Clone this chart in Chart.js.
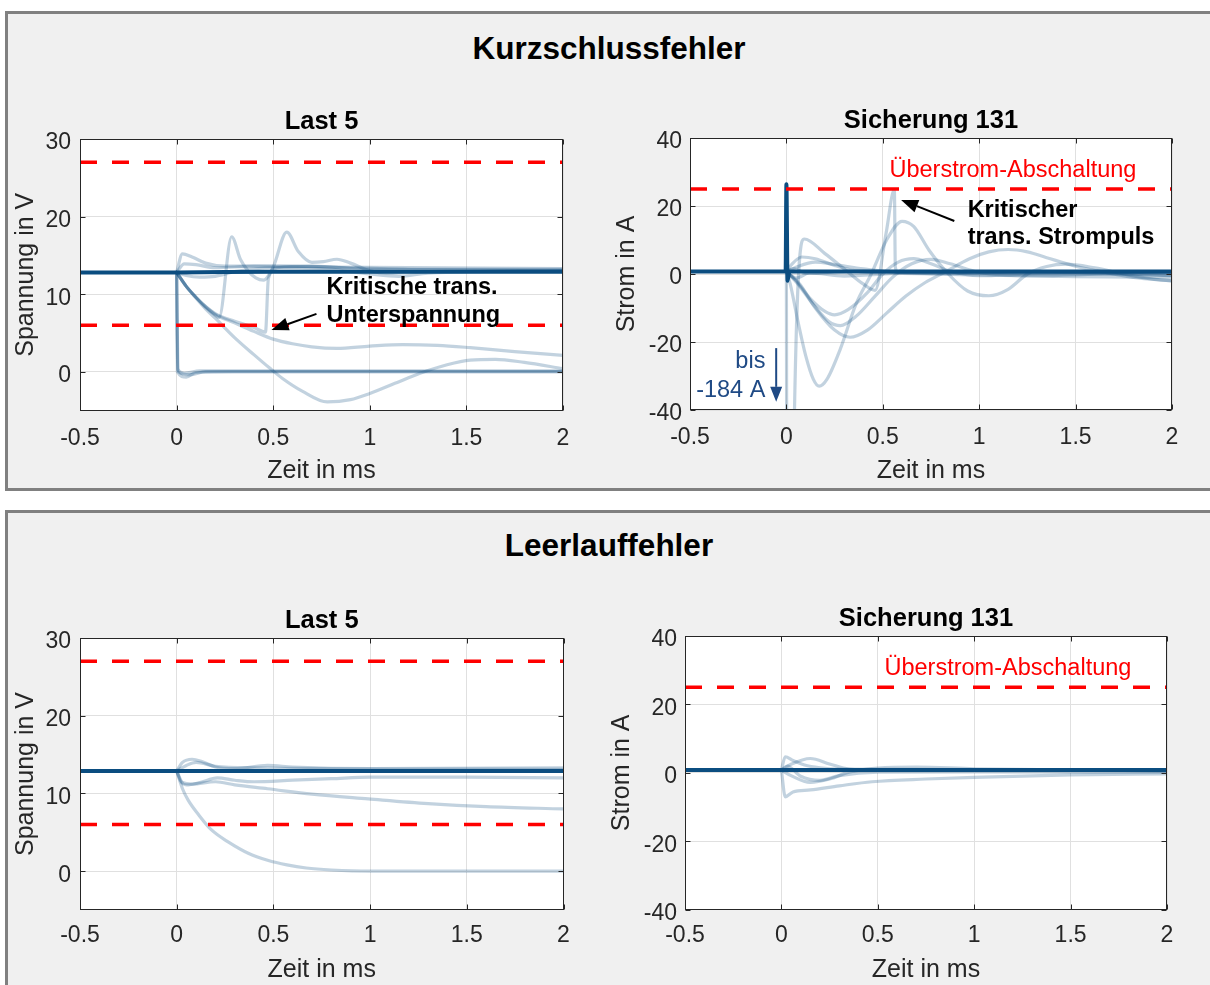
<!DOCTYPE html>
<html>
<head>
<meta charset="utf-8">
<script src="https://cdn.jsdelivr.net/npm/chart.js"></script>
<style>
  body { margin: 0; width: 1210px; height: 985px; overflow: hidden; position: relative; background: #fff; }
  .panel { position: absolute; left: 5px; width: 1222px; box-sizing: border-box; background: #f0f0f0; border: 3px solid #808080; }
  #panelShort { top: 11px; height: 480px; }
  #panelOpen { top: 510px; height: 500px; }
  .ptitle { position: absolute; left: 0; width: 1218px; text-align: center; color: #000;
            font: bold 31.5px/32px "Liberation Sans", Arial, sans-serif; }
  canvas { position: absolute; }
</style>
</head>
<body>
<div class="panel" id="panelShort"></div>
<div class="panel" id="panelOpen"></div>
<div class="ptitle" style="top:32px">Kurzschlussfehler</div>
<div class="ptitle" style="top:529px">Leerlauffehler</div>

<canvas id="ksLast" width="600" height="398" style="left:0;top:90px"></canvas>
<canvas id="ksFuse" width="610" height="398" style="left:600px;top:89px"></canvas>
<canvas id="llLast" width="600" height="398" style="left:0;top:589px"></canvas>
<canvas id="llFuse" width="610" height="400" style="left:595px;top:587px"></canvas>

<script>
// axes
const timeRange = [-0.5, 2];
const timeTicks = [-0.5, 0, 0.5, 1, 1.5, 2];
const voltRange = [-5, 30];
const voltTicks = [0, 10, 20, 30];
const currentRange = [-40, 40];
const currentTicks = [-40, -20, 0, 20, 40];

// limits (red dashed)
const voltLimits = [6, 27];
const currentLimits = [25];

// Kurzschluss, Last 5 - voltage in V over time in ms
const ksLastMain = [[-0.5, 12.8], [0, 12.8], [0.5, 12.9], [2, 12.9]];
const ksLastDropA = [[0, 12.8], [0.004, 0], [0.05, -0.7], [0.1, -0.1], [0.3, 0], [2, 0]];
const ksLastDropB = [[0, 12.8], [0.006, 0.3], [0.04, -0.2], [0.12, 0.1], [2, 0.1]];
const ksLastDropC = [[0, 12.8], [0.008, 0], [0.07, -0.4], [0.15, 0], [2, 0]];
const ksLastRiseA = [[0, 12.8], [0.03, 15.2], [0.08, 14.8], [0.15, 14.0], [0.25, 13.6], [0.6, 13.6], [0.9, 13.4], [1.3, 13.2], [2, 13.2]];
const ksLastRiseB = [[0, 12.8], [0.04, 13.9], [0.1, 13.8], [0.2, 13.4], [0.4, 13.6], [0.8, 13.5], [2, 13.3]];
const ksLastDip = [[0, 12.8], [0.05, 12.4], [0.12, 12.2], [0.2, 12.3], [0.3, 12.9], [0.5, 13.4], [0.8, 13.2], [1.0, 12.6], [1.15, 12.3], [1.3, 12.7], [2, 13.0]];
const ksLastSpike = [[0, 12.8], [0.05, 11.0], [0.1, 9.6], [0.15, 8.3], [0.2, 7.3], [0.22, 7.0], [0.285, 17.4], [0.33, 14.5], [0.37, 13.0], [0.41, 12.1], [0.45, 11.8], [0.5, 13.5], [0.57, 18.0], [0.63, 15.5], [0.7, 14.1], [0.76, 14.2], [0.83, 14.5], [0.9, 14.0], [1.0, 13.0], [1.1, 12.7], [1.3, 12.9], [2, 13.0]];
const ksLastSag = [[0, 12.8], [0.05, 11.0], [0.1, 9.6], [0.15, 8.4], [0.2, 7.5], [0.3, 6.5], [0.4, 5.7], [0.46, 5.1], [0.475, 12.0], [0.52, 13.4], [0.7, 13.6], [1.0, 13.2], [2, 13.1]];
const ksLastSettle = [[0, 12.8], [0.05, 11.0], [0.1, 9.6], [0.15, 8.4], [0.2, 7.4], [0.3, 6.3], [0.4, 5.2], [0.5, 4.2], [0.6, 3.6], [0.7, 3.2], [0.83, 3.0], [1.0, 3.3], [1.17, 3.5], [1.35, 3.4], [1.52, 3.1], [1.75, 2.6], [2, 2.1]];
const ksLastSwing = [[0, 12.8], [0.05, 11.0], [0.1, 9.5], [0.15, 8.1], [0.2, 6.9], [0.3, 4.4], [0.4, 2.2], [0.48, 0.5], [0.55, -0.9], [0.65, -2.5], [0.78, -3.9], [0.9, -3.6], [1.0, -2.8], [1.13, -1.5], [1.26, -0.2], [1.4, 0.9], [1.52, 1.5], [1.65, 1.6], [1.8, 1.2], [2, 0.4]];

// Kurzschluss, Sicherung 131 - current in A
const ksFuseMain = [[-0.5, 0.7], [-0.004, 0.7], [0, 26.4], [0.006, -2], [0.015, 0.7], [2, 0.7]];
const ksFuseCut = [[0, 0.7], [0.006, -184], [0.032, -184], [0.042, -40], [0.093, 10.3], [0.2, 6], [0.3, 1.5], [0.4, -3], [0.46, -4.8], [0.517, 12], [0.56, 24.8], [0.565, 2], [0.58, 0.4], [2, 0.4]];
const ksFuseDeep = [[0, 0.7], [0.02, -3], [0.06, -14], [0.1, -24], [0.14, -31], [0.17, -33], [0.21, -31], [0.28, -22], [0.36, -9], [0.44, 0], [0.52, 10], [0.6, 15.5], [0.66, 14], [0.74, 7], [0.84, 0], [0.94, -5], [1.05, -6.4], [1.15, -4.5], [1.25, 0], [1.35, 2.2], [1.45, 2.9], [1.6, 1.8], [1.75, 0], [1.9, -1.5], [2, -2]];
const ksFuseDipA = [[0, 0.7], [0.05, -2], [0.12, -7], [0.2, -11], [0.25, -12], [0.32, -10.5], [0.42, -5.5], [0.5, 0], [0.58, 3.5], [0.66, 4.5], [0.75, 3], [0.85, 0.8], [1.0, -0.5], [1.3, 0], [2, 0]];
const ksFuseDipB = [[0, 0.7], [0.06, -3], [0.14, -9], [0.22, -14], [0.28, -15.2], [0.36, -12.5], [0.46, -6.5], [0.55, -1], [0.65, 3], [0.75, 4.3], [0.85, 3], [1.0, 0.5], [1.3, -0.5], [1.7, 0], [2, -0.5]];
const ksFuseDipC = [[0, 0.7], [0.07, -3], [0.15, -10], [0.25, -16.5], [0.33, -18.6], [0.42, -16.5], [0.52, -11.5], [0.62, -6.5], [0.72, -2.5], [0.82, 0.5], [0.95, 4.5], [1.05, 6.5], [1.15, 7.2], [1.25, 6.5], [1.35, 4.8], [1.5, 2.3], [1.65, 0.5], [1.8, -1], [2, -2]];
const ksFuseBumpA = [[0, 0.7], [0.03, 3], [0.08, 5], [0.15, 4.5], [0.25, 2.5], [0.35, 1], [0.5, 0.4], [2, 0.4]];
const ksFuseBumpB = [[0, 0.7], [0.05, 2], [0.15, 3.5], [0.25, 2.8], [0.4, 1.5], [0.6, 0.5], [2, 0.5]];
const ksFuseRipple = [[0, 0.7], [0.05, -1.2], [0.12, 0.3], [0.3, -0.6], [0.6, 0.2], [1.0, -0.3], [1.5, -0.8], [2, -1]];
const ksFuseHold = [[0, 0.7], [0.04, 1.6], [0.1, 0.2], [0.4, 0.9], [0.8, 0.1], [1.2, 0.6], [2, -0.4]];

// Leerlauf, Last 5
const llLastMain = [[-0.5, 12.9], [0, 12.9], [2, 12.9]];
const llLastRiseA = [[0, 12.9], [0.03, 14.0], [0.08, 14.4], [0.13, 14.1], [0.2, 13.4], [0.3, 13.2], [0.47, 13.6], [0.6, 13.4], [1.0, 13.2], [2, 13.3]];
const llLastRiseB = [[0, 12.9], [0.05, 13.6], [0.1, 14.0], [0.2, 13.5], [0.4, 13.3], [2, 13.1]];
const llLastDip = [[0, 12.9], [0.02, 11.6], [0.05, 11.1], [0.12, 11.4], [0.21, 12.0], [0.3, 11.7], [0.4, 11.5], [0.6, 11.7], [0.8, 11.9], [1.0, 12.1], [1.5, 12.1], [2, 12.0]];
const llLastSag = [[0, 12.9], [0.03, 11.4], [0.08, 11.2], [0.2, 11.5], [0.3, 11.1], [0.47, 10.6], [0.7, 9.9], [0.99, 9.3], [1.3, 8.7], [1.6, 8.3], [2, 8.0]];
const llLastDecay = [[0, 12.9], [0.03, 10.6], [0.06, 9.1], [0.115, 7.2], [0.18, 5.3], [0.27, 3.7], [0.37, 2.3], [0.47, 1.4], [0.57, 0.8], [0.67, 0.4], [0.8, 0.15], [1.0, 0], [2, 0]];

// Leerlauf, Sicherung 131
const llFuseMain = [[-0.5, 0.8], [0, 0.8], [2, 0.8]];
const llFuseNeg = [[0, 0.8], [0.02, -7], [0.06, -5.6], [0.15, -5], [0.3, -3.8], [0.47, -2.6], [0.75, -1.8], [1.0, -1.3], [1.5, -0.6], [2, -0.3]];
const llFusePos = [[0, 0.8], [0.02, 4.7], [0.06, 3.6], [0.12, 2.3], [0.2, 1.5], [0.3, 1.1], [2, 0.8]];
const llFuseRingA = [[0, 0.8], [0.05, 2.5], [0.15, 4.2], [0.25, 2.6], [0.35, 1.1], [0.5, 0.8], [2, 0.8]];
const llFuseRingB = [[0, 0.8], [0.05, -0.8], [0.15, -2.8], [0.25, -1.8], [0.35, 0.2], [0.5, 1.4], [0.7, 1.7], [1.0, 1.2], [2, 0.6]];
const llFuseRingC = [[0, 0.8], [0.03, 2], [0.1, -1], [0.2, -2.2], [0.3, -0.8], [0.5, 0.2], [1.0, 0.3], [2, 0.2]];

const DARK = '#0b4d80';
const LIGHT = 'rgba(11, 77, 128, 0.25)';
const INK = '#262626';
const FONT = '"Liberation Sans", Arial, sans-serif';

Chart.defaults.font.family = FONT;
Chart.defaults.color = INK;

function lineSet(pts, color, width) {
    return {
        data: pts.map(p => ({ x: p[0], y: p[1] })),
        borderColor: color,
        borderWidth: width,
        pointRadius: 0,
        fill: false,
        cubicInterpolationMode: 'monotone',
        borderCapStyle: 'round',
        borderJoinStyle: 'round',
        clip: 0
    };
}

function limitSet(v) {
    return {
        data: [{ x: timeRange[0], y: v }, { x: timeRange[1], y: v }],
        borderColor: '#ff0000',
        borderWidth: 3.5,
        borderDash: [17, 15],
        pointRadius: 0,
        fill: false
    };
}

function arrow(ctx, x1, y1, x2, y2, color, lw, len, half) {
    const a = Math.atan2(y2 - y1, x2 - x1);
    const bx = x2 - len * Math.cos(a), by = y2 - len * Math.sin(a);
    ctx.strokeStyle = color;
    ctx.lineWidth = lw;
    ctx.beginPath();
    ctx.moveTo(x1, y1);
    ctx.lineTo(bx, by);
    ctx.stroke();
    ctx.fillStyle = color;
    ctx.beginPath();
    ctx.moveTo(x2, y2);
    ctx.lineTo(bx + half * Math.sin(a), by - half * Math.cos(a));
    ctx.lineTo(bx - half * Math.sin(a), by + half * Math.cos(a));
    ctx.closePath();
    ctx.fill();
}

// white plot area, box with inward ticks, text notes and arrows
function framePlugin(notes) {
    return {
        id: 'frame',
        beforeDraw(chart) {
            const a = chart.chartArea, ctx = chart.ctx;
            ctx.save();
            ctx.fillStyle = '#fff';
            ctx.fillRect(a.left, a.top, a.right - a.left, a.bottom - a.top);
            ctx.restore();
        },
        afterDraw(chart) {
            const { ctx, chartArea: a, scales: { x, y } } = chart;
            ctx.save();
            ctx.strokeStyle = INK;
            ctx.lineWidth = 1;
            const L = Math.round(a.left) + 0.5, R = Math.round(a.right) - 0.5;
            const T = Math.round(a.top) + 0.5, B = Math.round(a.bottom) - 0.5;
            ctx.strokeRect(L, T, R - L, B - T);
            ctx.beginPath();
            x.ticks.forEach(t => {
                const px = Math.round(x.getPixelForValue(t.value)) + 0.5;
                ctx.moveTo(px, B); ctx.lineTo(px, B - 5);
                ctx.moveTo(px, T); ctx.lineTo(px, T + 5);
            });
            y.ticks.forEach(t => {
                const py = Math.round(y.getPixelForValue(t.value)) + 0.5;
                ctx.moveTo(L, py); ctx.lineTo(L + 5, py);
                ctx.moveTo(R, py); ctx.lineTo(R - 5, py);
            });
            ctx.stroke();

            notes.forEach(n => {
                if (n.text) {
                    ctx.font = n.font;
                    ctx.fillStyle = n.color;
                    ctx.textAlign = n.align;
                    ctx.textBaseline = 'alphabetic';
                    ctx.fillText(n.text, x.getPixelForValue(n.at[0]), y.getPixelForValue(n.at[1]));
                } else {
                    arrow(ctx, x.getPixelForValue(n.from[0]), y.getPixelForValue(n.from[1]),
                        x.getPixelForValue(n.to[0]), y.getPixelForValue(n.to[1]),
                        n.color, 2, n.len, n.half);
                }
            });
            ctx.restore();
        }
    };
}

function makeChart(id, c) {
    const datasets = [
        ...c.limits.map(limitSet),
        lineSet(c.main, DARK, 4),
        ...c.traces.map(t => lineSet(t, LIGHT, 3.2))
    ];
    return new Chart(document.getElementById(id), {
        type: 'line',
        data: { datasets: datasets },
        plugins: [framePlugin(c.notes)],
        options: {
            responsive: false,
            animation: false,
            devicePixelRatio: 1,
            events: [],
            layout: { padding: { left: 0, right: c.padRight, top: 0, bottom: 0 } },
            plugins: {
                legend: { display: false },
                tooltip: { enabled: false },
                title: {
                    display: true,
                    text: c.title,
                    fullSize: false,
                    color: '#000',
                    font: { size: 25.5, weight: 'bold' },
                    padding: { top: 16.5, bottom: 1.9 }
                }
            },
            scales: {
                x: {
                    type: 'linear',
                    min: timeRange[0],
                    max: timeRange[1],
                    afterBuildTicks: s => {
                        s.min = timeRange[0];
                        s.max = timeRange[1];
                        s.ticks = timeTicks.map(v => ({ value: v }));
                    },
                    afterFit: s => { s.height = c.xHeight; s.paddingLeft = 0; s.paddingRight = 0; },
                    grid: { color: '#e0e0e0', drawTicks: false },
                    border: { display: false },
                    ticks: {
                        autoSkip: false, maxRotation: 0, padding: c.xTickPad,
                        font: { size: 23 }, color: INK,
                        callback: v => String(v)
                    },
                    title: {
                        display: true, text: 'Zeit in ms', color: INK,
                        font: { size: 25 }, padding: { top: 0, bottom: c.xTitlePad }
                    }
                },
                y: {
                    type: 'linear',
                    min: c.yRange[0],
                    max: c.yRange[1],
                    afterBuildTicks: s => {
                        s.min = c.yRange[0];
                        s.max = c.yRange[1];
                        s.ticks = c.yTicks.map(v => ({ value: v }));
                    },
                    afterFit: s => { s.width = c.yWidth; s.paddingTop = 0; s.paddingBottom = 0; },
                    grid: { color: '#e0e0e0', drawTicks: false },
                    border: { display: false },
                    ticks: {
                        autoSkip: false, padding: c.yTickPad,
                        // empty first line nudges the number a few px below the tick
                        font: { size: 23, lineHeight: 0.36 }, color: INK,
                        callback: v => ['', String(v)]
                    },
                    title: {
                        display: true, text: c.yTitle, color: INK,
                        font: { size: 25 }, padding: { top: c.yTitlePad, bottom: 0 }
                    }
                }
            }
        }
    });
}

const boldNote = 'bold 23.5px ' + FONT;
const plainNote = '23.5px ' + FONT;

makeChart('ksLast', {
    title: 'Last 5', yTitle: 'Spannung in V',
    yRange: voltRange, yTicks: voltTicks, limits: voltLimits,
    main: ksLastMain,
    traces: [ksLastDropA, ksLastDropB, ksLastDropC, ksLastRiseA, ksLastRiseB, ksLastDip,
             ksLastSpike, ksLastSag, ksLastSettle, ksLastSwing],
    padRight: 37, yWidth: 80, xHeight: 77.5,
    xTickPad: 14.5, xTitlePad: 1.6, yTickPad: 9, yTitlePad: 11,
    notes: [
        { text: 'Kritische trans.', at: [0.776, 10.0], align: 'left', font: boldNote, color: '#000' },
        { text: 'Unterspannung', at: [0.776, 6.46], align: 'left', font: boldNote, color: '#000' },
        { from: [0.724, 7.45], to: [0.491, 5.39], color: '#000', len: 17, half: 6.5 }
    ]
});

makeChart('ksFuse', {
    title: 'Sicherung 131', yTitle: 'Strom in A',
    yRange: currentRange, yTicks: currentTicks, limits: currentLimits,
    main: ksFuseMain,
    traces: [ksFuseCut, ksFuseDeep, ksFuseDipA, ksFuseDipB, ksFuseDipC,
             ksFuseBumpA, ksFuseBumpB, ksFuseRipple, ksFuseHold],
    padRight: 38, yWidth: 90, xHeight: 77,
    xTickPad: 13.5, xTitlePad: 0.6, yTickPad: 8, yTitlePad: 12,
    notes: [
        { text: 'Überstrom-Abschaltung', at: [1.175, 28.6], align: 'center', font: plainNote, color: '#ff0000' },
        { text: 'Kritischer', at: [0.94, 16.85], align: 'left', font: boldNote, color: '#000' },
        { text: 'trans. Strompuls', at: [0.94, 8.7], align: 'left', font: boldNote, color: '#000' },
        { from: [0.871, 15.6], to: [0.595, 21.8], color: '#000', len: 17, half: 6.5 },
        { text: 'bis', at: [-0.109, -27.7], align: 'right', font: plainNote, color: '#1f4a85' },
        { text: '-184 A', at: [-0.109, -36.1], align: 'right', font: plainNote, color: '#1f4a85' },
        { from: [-0.053, -21.8], to: [-0.053, -37.6], color: '#1f4a85', len: 15, half: 6 }
    ]
});

makeChart('llLast', {
    title: 'Last 5', yTitle: 'Spannung in V',
    yRange: voltRange, yTicks: voltTicks, limits: voltLimits,
    main: llLastMain,
    traces: [llLastRiseA, llLastRiseB, llLastDip, llLastSag, llLastDecay],
    padRight: 36.5, yWidth: 80, xHeight: 77,
    xTickPad: 12, xTitlePad: 2.3, yTickPad: 9, yTitlePad: 11,
    notes: []
});

makeChart('llFuse', {
    title: 'Sicherung 131', yTitle: 'Strom in A',
    yRange: currentRange, yTicks: currentTicks, limits: currentLimits,
    main: llFuseMain,
    traces: [llFuseNeg, llFusePos, llFuseRingA, llFuseRingB, llFuseRingC],
    padRight: 38, yWidth: 90, xHeight: 77.3,
    xTickPad: 12.5, xTitlePad: 2.3, yTickPad: 8, yTitlePad: 12,
    notes: [
        { text: 'Überstrom-Abschaltung', at: [1.175, 28.6], align: 'center', font: plainNote, color: '#ff0000' }
    ]
});
</script>
</body>
</html>
